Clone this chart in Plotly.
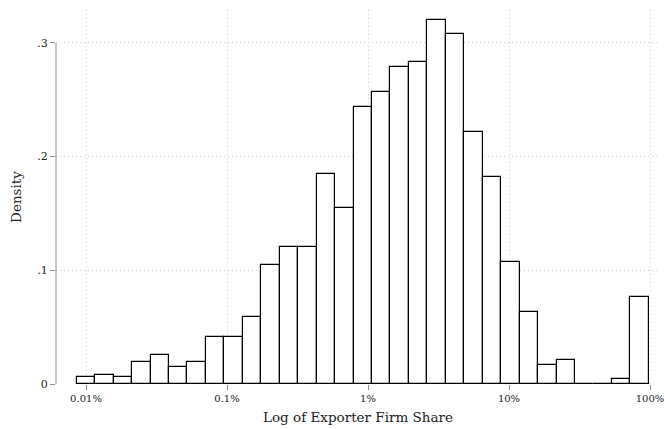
import plotly.graph_objects as go

# Histogram of log10(exporter firm share, in %)
BIN_START = -2.066      # log10(percent) of left edge of first bin
BIN_WIDTH = 0.1309      # bin width in decades
density = [0.006, 0.0082, 0.006, 0.0194, 0.0259, 0.0147, 0.0194, 0.0412, 0.0412, 0.0588,
           0.105, 0.1206, 0.1206, 0.1845, 0.155, 0.2437, 0.2567, 0.2787, 0.2834, 0.3204,
           0.3076, 0.2214, 0.182, 0.107, 0.0633, 0.0171, 0.0215, 0.0, 0.0, 0.0041, 0.0768]

x_tickvals = [-2, -1, 0, 1, 2]
x_ticktext = ["0.01%", "0.1%", "1%", "10%", "100%"]
y_tickvals = [0, 0.1, 0.2, 0.3]
y_ticktext = ["0", ".1", ".2", ".3"]

centers = [BIN_START + BIN_WIDTH * (i + 0.5) for i in range(len(density))]

FONT = "DejaVu Serif"
AXIS_GRAY = "#8f8f8f"
GRID = "#cfcfcf"

fig = go.Figure()
fig.add_trace(go.Bar(
    x=centers, y=density, width=[BIN_WIDTH] * len(density),
    marker=dict(color="white", line=dict(color="black", width=1.2)),
    hoverinfo="skip",
))

fig.update_layout(
    width=664, height=429,
    margin=dict(l=56, r=4, t=10, b=45),
    paper_bgcolor="white", plot_bgcolor="white",
    showlegend=False, bargap=0,
    font=dict(family=FONT, color="#222222", size=11),
    xaxis=dict(
        range=[-2.2128, 2.0709], tickvals=x_tickvals, ticktext=x_ticktext,
        showgrid=True, gridcolor=GRID, griddash="1px,3px", gridwidth=1,
        zeroline=False, showline=False, automargin=False,
        ticks="outside", ticklen=5, tickcolor=AXIS_GRAY, tickwidth=1,
        ticklabeloverflow="allow",
        tickfont=dict(size=10, family=FONT, color="#222222"),
        title=dict(text="Log of Exporter Firm Share", font=dict(size=13.5, family=FONT, color="#222222"), standoff=9),
    ),
    yaxis=dict(
        range=[0, 0.329], tickvals=y_tickvals, ticktext=y_ticktext,
        showgrid=True, gridcolor=GRID, griddash="1px,3px", gridwidth=1,
        zeroline=False, showline=False, automargin=False,
        ticks="outside", ticklen=5, tickcolor=AXIS_GRAY, tickwidth=1,
        tickfont=dict(size=11, family=FONT, color="#222222"),
        title=dict(text="Density", font=dict(size=13.5, family=FONT, color="#222222"), standoff=12),
    ),
    shapes=[
        dict(type="line", xref="paper", yref="y", x0=0, x1=0, y0=0, y1=0.3,
             line=dict(color=AXIS_GRAY, width=1), layer="above"),
        dict(type="line", xref="x", yref="y", x0=BIN_START, x1=2, y0=0, y1=0,
             line=dict(color=AXIS_GRAY, width=1), layer="below"),
    ],
)

fig.write_html("out.html", config={"displayModeBar": False},
               post_script="document.body.style.margin='0';document.body.style.overflow='hidden';")
